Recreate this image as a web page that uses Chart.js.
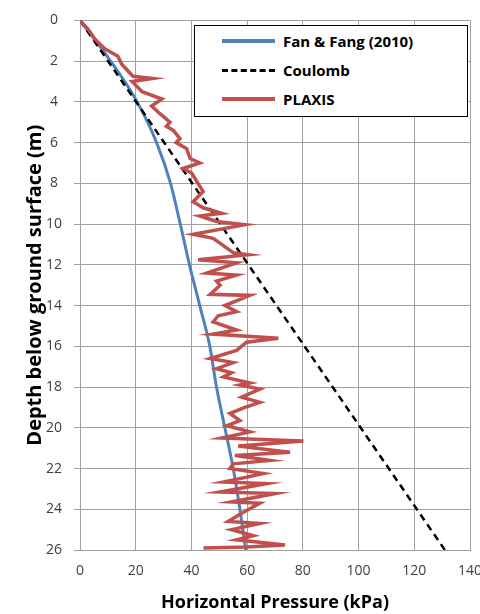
<!DOCTYPE html>
<html>
<head>
<meta charset="utf-8">
<script src="https://cdn.jsdelivr.net/npm/chart.js@4/dist/chart.umd.min.js"></script>
<style>
    body { margin: 0; background: #fff; }
    #container { position: relative; width: 480px; height: 614px; }
    #legenda {
        position: absolute; left: 194px; top: 25px; width: 272px; height: 90px;
        border: 1.5px solid #000; background: #fff;
        font-family: "Open Sans", sans-serif; font-weight: bold; font-size: 15px; color: #000;
    }
    .item { position: absolute; left: 0; height: 20px; display: flex; align-items: center; }
    .amostra { width: 53px; margin-left: 27px; margin-right: 8px; }
</style>
</head>
<body>
<div id="container">
    <canvas id="grafico" width="480" height="614"></canvas>
    <div id="legenda"></div>
</div>
<script>
// Dados (pressão em kPa, profundidade em m)
const fanPressao = [0, 11, 20.5, 27.5, 32.5, 36, 39.3, 43, 46.6, 49, 52, 55, 57.4, 59.5];
const fanProfundidade = [0, 2, 4, 6, 8, 10, 12, 14, 16, 18, 20, 22, 24, 26];

const coulombPressao = [0, 131];
const coulombProfundidade = [0, 26];

const plaxisPressao = [0, 3, 5.4, 9, 13.6, 15, 19, 26, 18.7, 22.3, 29.4, 25.7, 28.7, 32.3, 31, 33.5,
    35.9, 34.5, 38.3, 39.5, 43, 37, 40.1, 41.9, 44.2, 40.6, 44.2, 50.8, 43, 49, 59.2, 40.6, 47.8, 55,
    60.3, 42.4, 56.2, 45.5, 56.2, 49, 50.3, 46.7, 61, 52, 56.2, 49.6, 47.8, 56.2, 47.8, 71.2, 59.8,
    56.2, 46.7, 55, 49, 54.4, 51.5, 61, 57.4, 64.6, 58, 64.6, 59.2, 53.8, 57.4, 52.7, 61, 50.9, 80.2,
    56.8, 75.4, 55.6, 68.2, 55, 53.8, 65.8, 51.5, 67, 50.3, 70, 54.4, 64.6, 58, 53.2, 64.6, 54.4,
    62.2, 56.2, 73.6, 59.8, 44.3];
const plaxisProfundidade = [0, 0.45, 0.93, 1.4, 1.76, 2.15, 2.74, 2.85, 3.0, 3.5, 3.86, 4.2, 4.58, 5.0,
    5.2, 5.4, 5.8, 6.0, 6.3, 6.78, 7.0, 7.27, 7.5, 7.9, 8.4, 8.9, 9.2, 9.47, 9.6, 9.87, 10.03, 10.5,
    10.7, 11.4, 11.5, 11.75, 11.9, 12.4, 12.5, 12.8, 13.0, 13.45, 13.5, 14.0, 14.3, 14.5, 14.8, 15.2,
    15.4, 15.6, 15.8, 16.2, 16.6, 16.8, 17.1, 17.3, 17.5, 17.8, 17.9, 18.1, 18.5, 18.75, 19.0, 19.3,
    19.65, 19.9, 20.2, 20.5, 20.65, 20.9, 21.2, 21.36, 21.6, 21.77, 22.0, 22.25, 22.66, 22.74, 23.15,
    23.23, 23.64, 23.7, 24.2, 24.6, 24.7, 25.0, 25.3, 25.5, 25.76, 25.85, 25.9];

const legendaOrdem = ['Fan & Fang (2010)', 'Coulomb', 'PLAXIS'];

// Junta as duas listas em pontos {x, y}
function pontos(pressao, profundidade) {
    return pressao.map((p, i) => ({ x: p, y: profundidade[i] }));
}

// Monta a legenda em HTML a partir dos datasets
function criarLegenda(chart) {
    const legenda = document.getElementById('legenda');
    legendaOrdem.forEach((nome, i) => {
        const ds = chart.data.datasets.find(d => d.label === nome);
        const item = document.createElement('div');
        item.className = 'item';
        item.style.top = (5 + i * 29) + 'px';
        const amostra = document.createElement('span');
        amostra.className = 'amostra';
        amostra.style.borderTop = ds.borderDash ? '3px dashed ' + ds.borderColor : '4px solid ' + ds.borderColor;
        const texto = document.createElement('span');
        texto.innerText = nome;
        item.appendChild(amostra);
        item.appendChild(texto);
        legenda.appendChild(item);
    });
}

const corGrade = '#a0a0a0';
const fonteTicks = { family: 'Open Sans', size: 14 };

const ctx = document.getElementById('grafico').getContext('2d');
const grafico = new Chart(ctx, {
    type: 'scatter',
    data: {
        datasets: [
            {
                label: 'PLAXIS',
                data: pontos(plaxisPressao, plaxisProfundidade),
                borderColor: '#c0504d',
                borderWidth: 3.5,
                order: 0
            },
            {
                label: 'Coulomb',
                data: pontos(coulombPressao, coulombProfundidade),
                borderColor: '#000000',
                borderWidth: 2.5,
                borderDash: [7, 5],
                order: 1
            },
            {
                label: 'Fan & Fang (2010)',
                data: pontos(fanPressao, fanProfundidade),
                borderColor: '#4f81bd',
                borderWidth: 3,
                cubicInterpolationMode: 'monotone',
                order: 2
            }
        ]
    },
    options: {
        responsive: false,
        animation: false,
        showLine: true,
        elements: { point: { radius: 0, hoverRadius: 0 }, line: { tension: 0 } },
        layout: { padding: { top: 18, right: 10, bottom: 0, left: 0 } },
        plugins: { legend: { display: false }, tooltip: { enabled: false } },
        scales: {
            x: {
                type: 'linear',
                min: 0,
                max: 140,
                ticks: { stepSize: 20, color: '#404040', font: fonteTicks, padding: 13, maxRotation: 0 },
                grid: { color: corGrade, drawTicks: false },
                border: { color: corGrade },
                title: {
                    display: true,
                    text: 'Horizontal Pressure (kPa)',
                    color: '#000',
                    font: { family: 'Open Sans', size: 18, weight: 'bold' },
                    padding: { top: 0, bottom: 0 }
                },
                afterFit: function(escala) {
                    escala.height = 64;
                    escala.paddingRight = 0;
                    escala.paddingLeft = 0;
                }
            },
            y: {
                type: 'linear',
                reverse: true,
                min: 0,
                max: 26,
                ticks: { stepSize: 2, color: '#404040', font: fonteTicks, padding: 12, crossAlign: 'center' },
                grid: { color: corGrade, tickLength: 6 },
                border: { color: corGrade },
                title: {
                    display: true,
                    text: 'Depth below ground surface (m)',
                    color: '#000',
                    font: { family: 'Open Sans', size: 20, weight: 'bold' },
                    padding: { top: 23, bottom: 0 }
                },
                afterFit: function(escala) {
                    escala.width = 80;
                }
            }
        }
    }
});

criarLegenda(grafico);
</script>
</body>
</html>
